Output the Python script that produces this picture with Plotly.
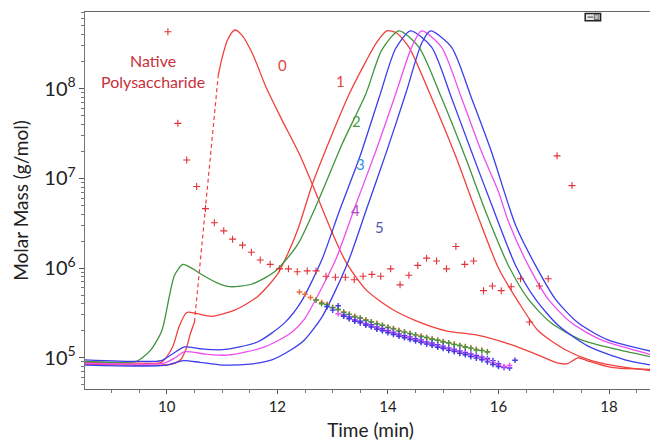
import plotly.graph_objects as go

# ---------------- data ----------------
# Native polysaccharide (curve "0")
t0 = [8.5, 9.0, 9.5, 9.9, 10.1, 10.25, 10.35, 10.42, 10.5]
m0 = [8.5e4, 8.4e4, 8.3e4, 8.3e4, 8.5e4, 9.5e4, 1.26e5, 1.8e5, 2.5e5]
t0_dash = [10.5, 10.93]
m0_dash = [2.5e5, 1.4e8]
t0b = [10.93, 11.0, 11.1, 11.23, 11.35, 11.55, 11.8, 12.09, 12.4, 12.61, 12.99, 13.24, 13.6,
       14.07, 14.5, 15.05, 15.64, 16.23, 16.72, 17.08, 17.25, 17.44, 17.6, 18.04, 18.85]
m0b = [1.4e8, 2.2e8, 3.5e8, 4.5e8, 4.0e8, 2.45e8, 1.02e8, 4.4e7, 1.86e7, 9.3e6, 2.5e6, 1.17e6, 5.75e5,
       3.5e5, 2.6e5, 2.0e5, 1.78e5, 1.4e5, 1.07e5, 8.7e4, 8.6e4, 1.0e5, 9.3e4, 7.8e4, 7.4e4]

t1 = [8.5, 9.5, 9.9, 10.1, 10.22, 10.36, 10.55, 10.81, 11.23, 11.64, 12.0, 12.2, 12.38, 12.63, 12.99, 13.3,
      13.6, 13.8, 13.98, 14.15, 14.38, 14.79, 15.23, 15.6, 16.0, 16.36, 16.72, 17.21, 17.68, 18.29, 18.85]
m1 = [8.9e4, 8.7e4, 8.9e4, 1.3e5, 2.2e5, 3.2e5, 3.1e5, 2.9e5, 3.4e5, 4.8e5, 8.5e5, 1.5e6, 2.8e6, 8.5e6, 3.1e7, 8.7e7,
      2.0e8, 3.3e8, 4.4e8, 4.2e8, 2.9e8, 7.9e7, 1.74e7, 4.2e6, 1.0e6, 4.2e5, 2.0e5, 1.23e5, 9.3e4, 7.8e4, 7.1e4]

t2 = [8.5, 9.2, 9.45, 9.7, 9.91, 10.05, 10.14, 10.29, 10.45, 10.6, 10.92, 11.14, 11.53, 11.95, 12.36,
      12.76, 13.17, 13.6, 13.89, 14.2, 14.56, 14.97, 15.41, 15.8, 16.18, 16.54, 16.95, 17.5, 18.16, 18.85]
m2 = [9.1e4, 8.9e4, 9.1e4, 1.2e5, 2.0e5, 5.0e5, 8.3e5, 1.1e6, 1.0e6, 8.7e5, 6.8e5, 6.2e5, 6.6e5, 9.1e5, 1.8e6,
      6.0e6, 2.4e7, 8.7e7, 2.7e8, 4.4e8, 2.9e8, 7.9e7, 1.66e7, 3.8e6, 1.07e6, 4.5e5, 2.45e5, 1.58e5, 1.23e5, 1.0e5]

t3 = [8.5, 9.5, 9.9, 10.1, 10.32, 10.6, 11.0, 11.64, 12.13, 12.43, 12.81, 13.12, 13.48, 13.84, 14.14,
      14.41, 14.79, 15.15, 15.51, 15.87, 16.31, 16.67, 17.08, 17.62, 18.29, 18.85]
m3 = [9.5e4, 9.1e4, 9.3e4, 1.1e5, 1.32e5, 1.26e5, 1.23e5, 1.5e5, 2.45e5, 4.2e5, 1.26e6, 4.3e6, 1.66e7, 7.9e7, 2.8e8,
      4.4e8, 2.9e8, 7.9e7, 2.0e7, 5.2e6, 1.07e6, 4.5e5, 2.3e5, 1.35e5, 9.5e4, 8.1e4]

t4 = [8.5, 9.5, 9.95, 10.15, 10.32, 10.7, 11.1, 11.77, 12.25, 12.49, 12.75, 13.06, 13.42, 13.78, 14.14,
      14.43, 14.61, 14.97, 15.33, 15.69, 16.0, 16.18, 16.54, 16.9, 17.32, 17.86, 18.85]
m4 = [8.7e4, 8.5e4, 8.7e4, 1.0e5, 1.17e5, 1.1e5, 1.07e5, 1.32e5, 1.9e5, 2.7e5, 5.2e5, 1.26e6, 5.1e6, 2.0e7, 8.7e7,
      2.9e8, 4.4e8, 2.9e8, 7.9e7, 2.0e7, 7.1e6, 3.3e6, 1.07e6, 4.5e5, 2.45e5, 1.58e5, 1.05e5]

t5 = [8.5, 9.5, 10.0, 10.3, 10.6, 11.0, 11.5, 11.9, 12.25, 12.49, 12.8, 13.05, 13.3, 13.6, 13.96,
      14.32, 14.61, 14.77, 15.15, 15.51, 15.87, 16.31, 16.67, 17.03, 17.44, 17.98, 18.85]
m5 = [8.3e4, 8.1e4, 8.3e4, 9.3e4, 8.9e4, 8.3e4, 8.5e4, 9.5e4, 1.23e5, 1.58e5, 2.8e5, 5.6e5, 1.26e6, 4.3e6, 1.86e7,
      8.7e7, 3.2e8, 4.4e8, 2.9e8, 7.9e7, 2.0e7, 3.0e6, 1.07e6, 4.5e5, 2.45e5, 1.58e5, 1.15e5]

# Native polysaccharide molar mass points
tn = [10.02, 10.2, 10.36, 10.54, 10.7, 10.86, 11.03, 11.19, 11.37, 11.53, 11.69, 11.87, 12.04, 12.2, 12.36,
      12.54, 12.7, 12.88, 13.05, 13.23, 13.39, 13.55, 13.71, 13.87, 14.05, 14.22, 14.38, 14.54, 14.7, 14.88,
      15.06, 15.23, 15.39, 15.55, 15.73, 15.89, 16.05, 16.23, 16.4, 16.56, 16.74, 16.9, 17.06, 17.33]
mn = [4.3e8, 4.1e7, 1.6e7, 8.1e6, 4.6e6, 3.2e6, 2.6e6, 2.1e6, 1.8e6, 1.5e6, 1.23e6, 1.1e6, 9.8e5, 9.8e5, 9.1e5,
      9.3e5, 9.3e5, 8.1e5, 7.9e5, 7.9e5, 7.4e5, 8.1e5, 8.5e5, 8.1e5, 9.8e5, 6.5e5, 8.3e5, 1.07e6, 1.29e6, 1.2e6,
      9.8e5, 1.74e6, 1.1e6, 1.2e6, 5.6e5, 6.3e5, 5.6e5, 6.2e5, 7.6e5, 2.5e5, 6.3e5, 7.6e5, 1.78e7, 8.3e6]

# Degraded samples molar mass points
ts1 = [12.4, 12.5, 12.6, 12.7, 12.8, 12.9, 13.0, 13.1, 13.2, 13.3, 13.4, 13.5, 13.6, 13.7, 13.8, 13.9, 14.0, 14.1,
       14.2, 14.3, 14.4, 14.5, 14.6, 14.7, 14.8, 14.9, 15.0, 15.1, 15.2, 15.3, 15.4, 15.5, 15.6, 15.7, 15.8]
ms1 = [5.4e5, 5.1e5, 4.7e5, 4.4e5, 4.15e5, 3.95e5, 3.65e5, 3.45e5, 3.25e5, 3.05e5, 2.9e5, 2.78e5, 2.65e5, 2.52e5,
       2.42e5, 2.3e5, 2.2e5, 2.12e5, 2.02e5, 1.93e5, 1.87e5, 1.8e5, 1.75e5, 1.68e5, 1.63e5, 1.57e5, 1.52e5, 1.47e5,
       1.42e5, 1.37e5, 1.33e5, 1.28e5, 1.24e5, 1.21e5, 1.17e5]
ts2 = [12.7, 12.8, 12.9, 13.0, 13.1, 13.2, 13.3, 13.4, 13.5, 13.6, 13.7, 13.8, 13.9, 14.0, 14.1, 14.2, 14.3, 14.4,
       14.5, 14.6, 14.7, 14.8, 14.9, 15.0, 15.1, 15.2, 15.3, 15.4, 15.5, 15.6, 15.7, 15.8]
ms2 = [4.4e5, 4.0e5, 3.9e5, 3.6e5, 3.45e5, 3.2e5, 3.05e5, 2.85e5, 2.78e5, 2.6e5, 2.52e5, 2.38e5, 2.3e5, 2.17e5,
       2.1e5, 1.98e5, 1.93e5, 1.85e5, 1.8e5, 1.72e5, 1.68e5, 1.6e5, 1.57e5, 1.5e5, 1.46e5, 1.4e5, 1.37e5, 1.31e5,
       1.28e5, 1.22e5, 1.2e5, 1.16e5]
ts3 = [12.9, 13.0, 13.1, 13.2, 13.3, 13.4, 13.5, 13.6, 13.7, 13.8, 13.9, 14.0, 14.1, 14.2, 14.3, 14.4, 14.5, 14.6,
       14.7, 14.8, 14.9, 15.0, 15.1, 15.2, 15.3, 15.4, 15.5, 15.6, 15.7, 15.8, 15.9, 16.0, 16.1, 16.2, 16.3]
ms3 = [3.7e5, 3.4e5, 3.8e5, 3.0e5, 2.85e5, 2.65e5, 2.55e5, 2.42e5, 2.33e5, 2.2e5, 2.12e5, 2.02e5, 1.93e5, 1.84e5,
       1.76e5, 1.71e5, 1.63e5, 1.58e5, 1.5e5, 1.46e5, 1.4e5, 1.35e5, 1.29e5, 1.25e5, 1.19e5, 1.15e5, 1.1e5, 1.06e5,
       1.02e5, 9.8e4, 9.3e4, 8.6e4, 7.8e4, 7.7e4, 9.4e4]
ts4 = [13.1, 13.2, 13.3, 13.4, 13.5, 13.6, 13.7, 13.8, 13.9, 14.0, 14.1, 14.2, 14.3, 14.4, 14.5, 14.6, 14.7, 14.8,
       14.9, 15.0, 15.1, 15.2, 15.3, 15.4, 15.5, 15.6, 15.7, 15.8, 15.9, 16.0, 16.1, 16.2]
ms4 = [3.1e5, 2.95e5, 2.75e5, 2.62e5, 2.48e5, 2.36e5, 2.25e5, 2.14e5, 2.05e5, 1.96e5, 1.87e5, 1.79e5, 1.71e5,
       1.66e5, 1.58e5, 1.53e5, 1.46e5, 1.41e5, 1.35e5, 1.31e5, 1.25e5, 1.21e5, 1.16e5, 1.12e5, 1.07e5, 1.03e5,
       9.9e4, 9.5e4, 8.8e4, 8.3e4, 8.0e4, 8.2e4]
ts5 = [13.2, 13.3, 13.4, 13.5, 13.6, 13.7, 13.8, 13.9, 14.0, 14.1, 14.2, 14.3, 14.4, 14.5, 14.6, 14.7, 14.8, 14.9,
       15.0, 15.1, 15.2, 15.3, 15.4, 15.5, 15.6, 15.7, 15.8, 15.9, 16.0]
ms5 = [2.9e5, 2.72e5, 2.55e5, 2.45e5, 2.3e5, 2.2e5, 2.08e5, 2.0e5, 1.9e5, 1.82e5, 1.74e5, 1.67e5, 1.6e5, 1.54e5,
       1.48e5, 1.42e5, 1.37e5, 1.31e5, 1.27e5, 1.21e5, 1.17e5, 1.12e5, 1.08e5, 1.03e5, 9.9e4, 9.5e4, 9.0e4, 8.4e4, 8.0e4]

x_ticks = [10, 12, 14, 16, 18]

# ---------------- styles ----------------
RED = "#f0413c"
GREEN = "#3f943f"
BLUE = "#3c3cec"
MAG = "#ee4ef0"
FONT = "Lato, 'Liberation Sans', sans-serif"

fig = go.Figure()

def line(t, m, color, dash="solid"):
    fig.add_trace(go.Scatter(x=t, y=m, mode="lines",
                             line=dict(color=color, width=1.3, dash=dash, shape="spline", smoothing=0.7),
                             showlegend=False, hoverinfo="skip"))

def pts(t, m, color, size=4, w=1.1):
    fig.add_trace(go.Scatter(x=t, y=m, mode="markers",
                             marker=dict(symbol="cross-thin", size=size, line=dict(color=color, width=w)),
                             showlegend=False, hoverinfo="skip"))

line(t0, m0, RED)
fig.add_trace(go.Scatter(x=t0_dash, y=m0_dash, mode="lines", line=dict(color=RED, width=1.2, dash="4px,3px"),
                         showlegend=False, hoverinfo="skip"))
line(t0b, m0b, RED)
line(t1, m1, RED)
line(t2, m2, GREEN)
line(t3, m3, BLUE)
line(t4, m4, MAG)
line(t5, m5, BLUE)

pts(tn, mn, "#e03238", size=5, w=1.1)
pts(ts1, ms1, "#f06a3c", size=4, w=1.4)
pts(ts2, ms2, "#3f9a3f", size=4, w=1.4)
pts(ts3, ms3, BLUE, size=4, w=1.4)
pts(ts4, ms4, MAG, size=4, w=1.4)
pts(ts5, ms5, "#3a3ae0", size=4, w=1.4)

ann = [
    dict(text="Native<br>Polysaccharide", x=9.75, y=8.20, color="#c8303a", size=16),
    dict(text="0", x=12.09, y=8.26, color="#e0453f", size=15),
    dict(text="1", x=13.15, y=8.09, color="#e0453f", size=15),
    dict(text="2", x=13.44, y=7.64, color="#45a045", size=15),
    dict(text="3", x=13.51, y=7.16, color="#3a8fe0", size=15),
    dict(text="4", x=13.41, y=6.65, color="#b44cc8", size=15),
    dict(text="5", x=13.84, y=6.46, color="#5656b0", size=15),
]
for a in ann:
    fig.add_annotation(text=a["text"], x=a["x"], y=a["y"], xref="x", yref="y", showarrow=False,
                       font=dict(color=a["color"], size=a["size"], family=FONT), align="center")

# small legend icon top-right
fig.add_shape(type="rect", xref="paper", yref="paper", x0=0.876, x1=0.903, y0=0.977, y1=0.996,
              line=dict(color="#222", width=1.5), fillcolor="#e8e8e8")
fig.add_shape(type="line", xref="paper", yref="paper", x0=0.880, x1=0.890, y0=0.9865, y1=0.9865,
              line=dict(color="#777", width=1.5))
fig.add_shape(type="rect", xref="paper", yref="paper", x0=0.892, x1=0.900, y0=0.980, y1=0.993,
              line=dict(color="#666", width=1), fillcolor="#bbb")

# page has an 8px body margin -> figure is 650x433 so that it fills the 658x441 window
fig.update_layout(
    width=650, height=433,
    margin=dict(l=77, r=1, t=4, b=47),
    paper_bgcolor="white", plot_bgcolor="white",
    font=dict(family=FONT, color="#222"),
    xaxis=dict(range=[8.52, 18.85], tickvals=x_ticks, ticks="outside", ticklen=4, tickcolor="#555",
               showgrid=False, zeroline=False, showline=True, linecolor="#666", linewidth=1.3, mirror=True,
               tickfont=dict(size=15, color="#222"),
               minor=dict(dtick=0.5, tick0=0, ticks="outside", ticklen=3, tickcolor="#777", showgrid=False),
               title=dict(text="Time (min)", font=dict(size=19, color="#222"), standoff=12)),
    yaxis=dict(type="log", range=[4.652, 8.854], dtick=1, exponentformat="power", showexponent="all",
               ticks="outside", ticklen=5, tickcolor="#555",
               showgrid=False, zeroline=False, showline=True, linecolor="#777", linewidth=1.3, mirror=True,
               tickfont=dict(size=16, color="#222"),
               minor=dict(dtick="D1", ticks="outside", ticklen=3, tickcolor="#777", showgrid=False),
               title=dict(text="Molar Mass (g/mol)", font=dict(size=19, color="#222"), standoff=10)),
)

fig.write_html("out.html")
